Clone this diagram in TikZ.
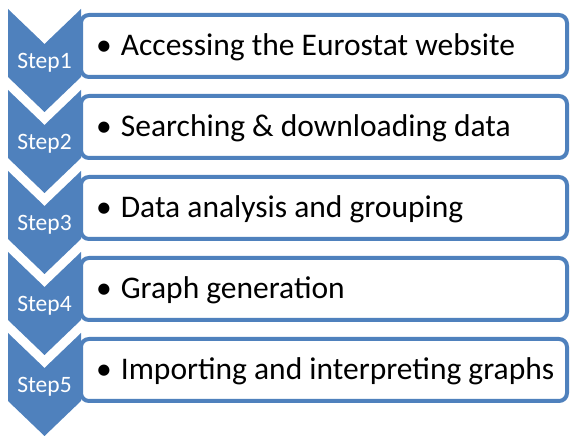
\documentclass[tikz,border=0pt]{standalone}
\usepackage{fontspec}
\setmainfont{Carlito}
\usetikzlibrary{positioning}
\definecolor{stepblue}{HTML}{4F81BD}

\begin{document}
\begin{tikzpicture}[x=1pt,y=-1pt,
  chev/.style={fill=stepblue},
  b/.style={draw=stepblue,line width=4pt,rounded corners=8pt,fill=white},
  lbl/.style={text=white,font=\fontsize{23.5}{26}\selectfont,anchor=base,inner sep=0pt},
  txt/.style={anchor=base west,font=\fontsize{31.5}{36}\selectfont,inner sep=0pt}]
\useasboundingbox (0,0) rectangle (571,438);
% one chevron + one box per step, 81pt apart
\foreach \t [count=\i] in {Accessing the Eurostat website,Searching \& downloading data,Data analysis and grouping,Graph generation,Importing and interpreting graphs}{
  \pgfmathsetmacro\y{9+81*(\i-1)}
  \draw[b] (81,\y+6) rectangle (567,\y+68);
  \fill[chev] (8,\y) -- (44.5,\y+35) -- (81,\y) -- (81,\y+68) -- (44.5,\y+103) -- (8,\y+68) -- cycle;
  \node[lbl] (step\i) at (44.5,\y+59.5) {Step\i};
  \node[txt] (item\i) at (96,\y+46.5) {\textbullet\hspace{9pt}\t};
}
\end{tikzpicture}
\end{document}
